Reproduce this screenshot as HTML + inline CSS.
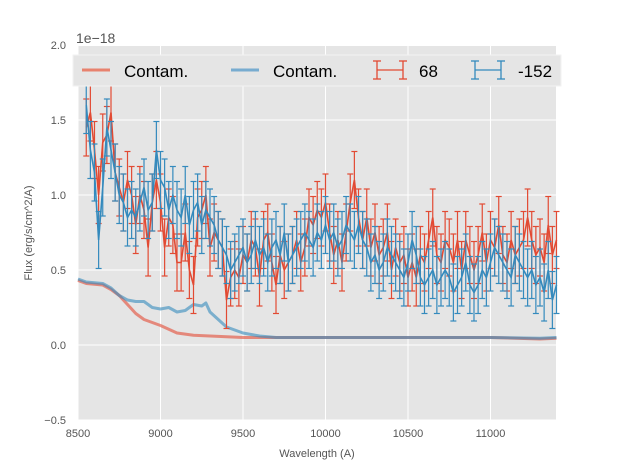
<!DOCTYPE html>
<html><head><meta charset="utf-8"><style>
html,body{margin:0;padding:0;background:#fff;}
svg{display:block;font-family:"Liberation Sans","DejaVu Sans",sans-serif;}
</style></head><body>
<svg id="chart" width="617" height="467" viewBox="0 0 617 467">
<rect x="78" y="46" width="478" height="374" fill="#e5e5e5"/>
<g id="grid"></g>
<g id="series"></g>
<g id="ticks"></g>
<text x="76" y="43" font-size="14" fill="#555">1e−18</text>
<text x="317" y="457" font-size="11" fill="#555" text-anchor="middle">Wavelength (A)</text>
<text x="32" y="233" font-size="11" fill="#555" text-anchor="middle" transform="rotate(-90 32 233)">Flux (erg/s/cm^2/A)</text>
<g>
<rect x="73" y="55" width="488" height="31" fill="#e5e5e5" stroke="#f2f2f2" stroke-width="1"/>
<g>
<line x1="82" y1="70" x2="110" y2="70" stroke="#e8826e" stroke-width="3"/>
<text x="124" y="77" font-size="17" fill="#000">Contam.</text></g>
<g>
<line x1="231" y1="70" x2="259" y2="70" stroke="#78acd0" stroke-width="3"/>
<text x="273" y="77" font-size="17" fill="#000">Contam.</text></g>
<g stroke="#e24a33" stroke-width="1.3">
<line x1="377" y1="70" x2="403" y2="70"/><line x1="377" y1="61" x2="377" y2="79"/><line x1="403" y1="61" x2="403" y2="79"/>
<line x1="373" y1="61" x2="381" y2="61"/><line x1="373" y1="79" x2="381" y2="79"/><line x1="399" y1="61" x2="407" y2="61"/><line x1="399" y1="79" x2="407" y2="79"/>
<text x="419" y="77" font-size="17" fill="#000" stroke="none">68</text></g>
<g stroke="#348abd" stroke-width="1.3">
<line x1="475" y1="70" x2="501" y2="70"/><line x1="475" y1="61" x2="475" y2="79"/><line x1="501" y1="61" x2="501" y2="79"/>
<line x1="471" y1="61" x2="479" y2="61"/><line x1="471" y1="79" x2="479" y2="79"/><line x1="497" y1="61" x2="505" y2="61"/><line x1="497" y1="79" x2="505" y2="79"/>
<text x="518" y="77" font-size="17" fill="#000" stroke="none">-152</text></g>
</g>
</svg>
<script>
const xTicks=[8500,9000,9500,10000,10500,11000];
const yTicks=[-0.5,0.0,0.5,1.0,1.5,2.0];
const yTickLabels=["−0.5","0.0","0.5","1.0","1.5","2.0"];
const redFlux=[1.45,1.55,1.3,1.0,1.35,1.4,1.55,1.15,1.05,0.95,1.1,
1.0,0.8,1.0,0.9,0.65,0.95,1.1,0.95,0.65,0.85,0.8,
0.55,0.55,0.75,0.5,0.4,0.85,0.9,1.0,0.65,0.75,0.7,
0.65,0.3,0.45,0.5,0.45,0.6,0.55,0.7,0.65,0.45,0.7,
0.75,0.55,0.4,0.6,0.5,0.55,0.6,0.7,0.55,0.65,0.85,
0.8,0.9,0.85,0.95,0.75,0.6,0.7,0.55,0.75,0.95,1.1,
0.85,0.7,0.85,0.65,0.75,0.6,0.65,0.75,0.5,0.65,0.55,
0.6,0.45,0.55,0.45,0.6,0.55,0.7,0.85,0.6,0.55,0.7,
0.65,0.55,0.7,0.5,0.7,0.6,0.5,0.6,0.75,0.55,0.7,
0.65,0.8,0.6,0.55,0.7,0.6,0.65,0.7,0.85,0.7,0.6,
0.65,0.55,0.8,0.6,0.7];
const blueFlux=[1.6,1.3,1.15,0.7,1.05,1.45,1.3,1.15,1.0,0.95,0.85,
0.9,0.85,0.95,1.05,0.9,0.95,1.3,1.1,1.05,0.9,1.0,
0.9,0.85,1.0,0.8,0.9,0.95,0.8,0.9,0.85,0.8,0.7,
0.65,0.6,0.5,0.55,0.6,0.65,0.55,0.6,0.7,0.6,0.65,
0.55,0.65,0.7,0.6,0.75,0.55,0.6,0.65,0.7,0.75,0.7,
0.65,0.75,0.7,0.8,0.7,0.75,0.65,0.7,0.8,0.75,0.7,
0.8,0.7,0.65,0.55,0.6,0.5,0.55,0.65,0.6,0.55,0.5,
0.45,0.55,0.7,0.6,0.45,0.4,0.45,0.5,0.4,0.45,0.5,
0.45,0.35,0.4,0.45,0.55,0.4,0.35,0.4,0.5,0.45,0.55,
0.65,0.6,0.55,0.5,0.45,0.6,0.55,0.5,0.45,0.5,0.4,
0.45,0.35,0.5,0.3,0.4];
const redErr=0.19, blueErr=0.19;
const contamWave=[8500,8550,8650,8700,8750,8800,8850,8900,9000,9100,9200,9300,9400,9500,9600,9700,10000,10500,11000,11300,11400];
const contamRed=[0.43,0.41,0.40,0.37,0.33,0.27,0.21,0.17,0.13,0.08,0.065,0.06,0.055,0.05,0.05,0.05,0.05,0.05,0.05,0.04,0.045];
const contamBlueWave=[8500,8550,8650,8700,8750,8800,8850,8900,8950,9000,9050,9100,9150,9200,9250,9275,9300,9350,9400,9500,9600,9700,10000,10500,11000,11300,11400];
const contamBlue=[0.44,0.42,0.41,0.38,0.33,0.30,0.29,0.29,0.25,0.24,0.25,0.22,0.23,0.27,0.26,0.28,0.22,0.17,0.12,0.08,0.06,0.05,0.05,0.05,0.05,0.045,0.05];
const waveStart=8550, waveStep=25;

const X=v=>78+(v-8500)*478/2897;
const Y=v=>345-v*150;
const NS="http://www.w3.org/2000/svg";
function mk(parent,tag,attrs){const e=document.createElementNS(NS,tag);for(const k in attrs)e.setAttribute(k,attrs[k]);parent.appendChild(e);return e;}
const grid=document.getElementById('grid'),ticks=document.getElementById('ticks'),series=document.getElementById('series');
xTicks.forEach(t=>{
  const g=mk(grid,'line',{x1:X(t),x2:X(t),y1:46,y2:420,stroke:'#fff','stroke-width':1});
  
  
  const tl=mk(ticks,'text',{x:X(t),y:437,'font-size':11,fill:'#555','text-anchor':'middle'});
  tl.textContent=t;
  
  
});
yTicks.forEach((t,i)=>{
  const g=mk(grid,'line',{x1:78,x2:556,y1:Y(t),y2:Y(t),stroke:'#fff','stroke-width':1});
  
  
  const tl=mk(ticks,'text',{x:66,y:Y(t)+4,'font-size':11,fill:'#555','text-anchor':'end'});
  tl.textContent=yTickLabels[i];
  
  
});
function poly(ws,vs,color,w,op,name){
  const p=mk(series,'polyline',{points:ws.map((x,i)=>X(x)+','+Y(vs[i])).join(' '),fill:'none',stroke:color,'stroke-width':w,'stroke-opacity':op,'stroke-linejoin':'round'});
  
  
}
poly(contamWave,contamRed,'#e24a33',3,0.6,'contam-red-line');
poly(contamBlueWave,contamBlue,'#348abd',3,0.6,'contam-blue-line');
function errSeries(vals,err,color,name){
  const g=mk(series,'g',{stroke:color,'stroke-width':1.2,fill:'none'});
  
  
  const ws=vals.map((v,i)=>waveStart+i*waveStep);
  vals.forEach((v,i)=>{
    const x=X(ws[i]);
    mk(g,'line',{x1:x,x2:x,y1:Y(v-err),y2:Y(v+err)});
    mk(g,'line',{x1:x-3,x2:x+3,y1:Y(v-err),y2:Y(v-err)});
    mk(g,'line',{x1:x-3,x2:x+3,y1:Y(v+err),y2:Y(v+err)});
  });
  mk(g,'polyline',{points:ws.map((w,i)=>X(w)+','+Y(vals[i])).join(' '),'stroke-width':1.6});
}
errSeries(redFlux,redErr,'#e24a33','series-68');
errSeries(blueFlux,blueErr,'#348abd','series-minus152');
</script>
</body></html>
